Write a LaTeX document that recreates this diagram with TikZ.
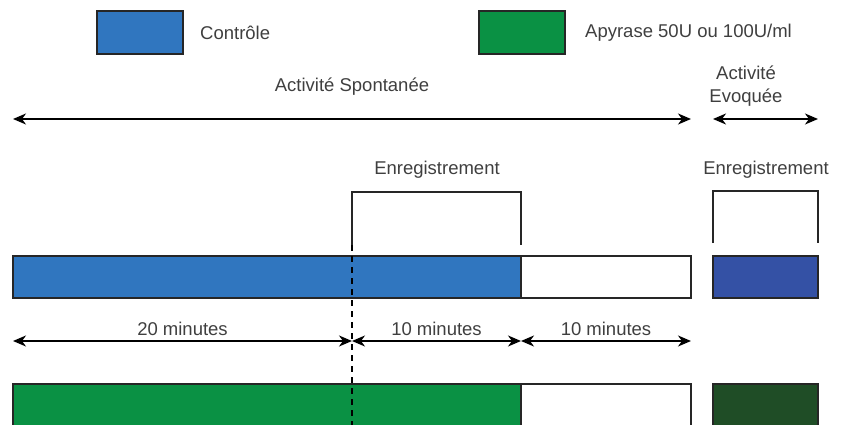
\documentclass[tikz,border=0pt]{standalone}
\usepackage{fontspec}
\setmainfont{Liberation Sans}
\usetikzlibrary{arrows.meta}
\definecolor{cblue}{HTML}{3076BF}
\definecolor{cgreen}{HTML}{0A9144}
\definecolor{dblue}{HTML}{3451A5}
\definecolor{dgreen}{HTML}{1F4D26}
\definecolor{txt}{HTML}{3F3F3F}
\begin{document}
\begin{tikzpicture}[x=1pt,y=-1pt,
  lbl/.style={text=txt,font=\fontsize{18.5}{22}\selectfont,inner sep=0pt},
  bar/.style={draw=black!85,line width=1.3pt},
  dim/.style={line width=1.4pt,{Stealth[length=13pt,width=11pt,inset=4pt]}-{Stealth[length=13pt,width=11pt,inset=4pt]}},
  brk/.style={line width=1.3pt,draw=black!85}]
\useasboundingbox (0,0) rectangle (844,425);
% legend
\node[bar,fill=cblue,minimum width=86pt,minimum height=43pt,inner sep=0pt] (lb) at (140,32.5) {};
\node[lbl,anchor=west] (lbt) at (200,33) {Contrôle};
\node[bar,fill=cgreen,minimum width=86pt,minimum height=43pt,inner sep=0pt] (lg) at (522,32.5) {};
\node[lbl,anchor=west] (lgt) at (585,33) {Apyrase 50U ou 100U/ml};
% activity arrows
\node[lbl] (as) at (352,87) {Activité Spontanée};
\coordinate (a1) at (13,119);
\coordinate (a2) at (691,119);
\draw[dim] (a1) -- (a2);
\node[lbl,align=center,font=\fontsize{18.5}{23}\selectfont] (ae) at (746,86) {Activité\\Evoquée};
\coordinate (e1) at (713,119);
\coordinate (e2) at (818,119);
\draw[dim] (e1) -- (e2);
% brackets
\node[lbl] (en1) at (437,170) {Enregistrement};
\coordinate (b1) at (352,245);
\coordinate (b2) at (352,192);
\coordinate (b3) at (521,192);
\coordinate (b4) at (521,245);
\draw[brk] (b1) -- (b2) -- (b3) -- (b4);
\node[lbl] (en2) at (766,170) {Enregistrement};
\coordinate (c1) at (713,243);
\coordinate (c2) at (713,191);
\coordinate (c3) at (818,191);
\coordinate (c4) at (818,243);
\draw[brk] (c1) -- (c2) -- (c3) -- (c4);
% bar 1
\draw[bar,fill=cblue] (13,256) rectangle (521,298);
\draw[bar,fill=white] (521,256) rectangle (691,298);
\draw[bar,fill=dblue] (713,256) rectangle (818,298);
% bar 2
\draw[bar,fill=cgreen] (13,384) rectangle (521,428);
\draw[bar,fill=white] (521,384) rectangle (691,428);
\draw[bar,fill=dgreen] (713,384) rectangle (818,428);
% dashed line
\coordinate (d1) at (352,245);
\coordinate (d2) at (352,430);
\draw[line width=1.5pt,dash pattern=on 6pt off 5pt] (d1) -- (d2);
% dimension arrows
\coordinate (m0) at (13,341);
\coordinate (m1) at (352,341);
\coordinate (m2) at (521,341);
\coordinate (m3) at (691,341);
\draw[dim] (m0) -- (m1) node[lbl,midway,above=5pt] {20 minutes};
\draw[dim] (m1) -- (m2) node[lbl,midway,above=5pt] {10 minutes};
\draw[dim] (m2) -- (m3) node[lbl,midway,above=5pt] {10 minutes};
\end{tikzpicture}
\end{document}
